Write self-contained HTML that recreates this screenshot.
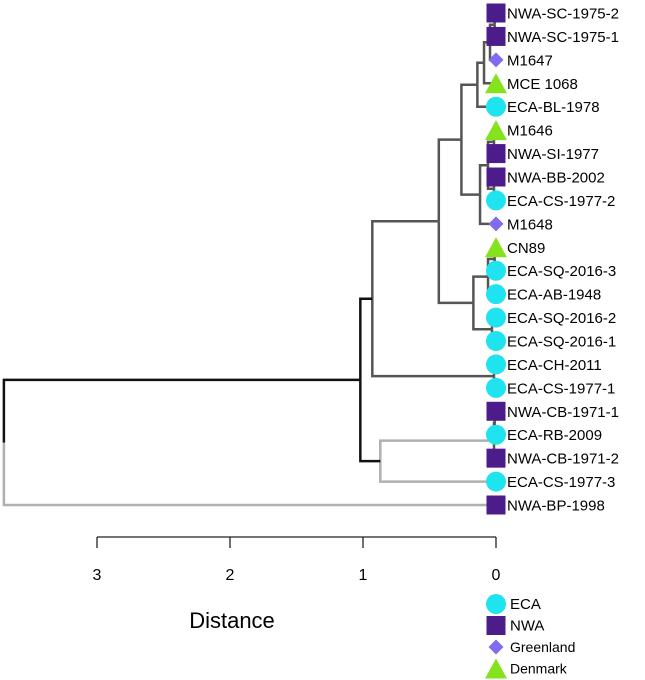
<!DOCTYPE html>
<html><head><meta charset="utf-8"><style>
body{margin:0;background:#fff}
svg{display:block;font-family:"Liberation Sans",Arial,sans-serif}
</style></head><body>
<svg id="chart" width="645" height="680" viewBox="0 0 645 680" xmlns="http://www.w3.org/2000/svg">
<g id="edges"></g>
<g id="leaves"></g>
<g id="axis"></g>
<text x="232" y="628" font-size="22" text-anchor="middle">Distance</text>
<g id="legend"></g>
</svg>
<script>
const leafNames = ["NWA-SC-1975-2","NWA-SC-1975-1","M1647","MCE 1068","ECA-BL-1978","M1646","NWA-SI-1977","NWA-BB-2002","ECA-CS-1977-2","M1648","CN89","ECA-SQ-2016-3","ECA-AB-1948","ECA-SQ-2016-2","ECA-SQ-2016-1","ECA-CH-2011","ECA-CS-1977-1","NWA-CB-1971-1","ECA-RB-2009","NWA-CB-1971-2","ECA-CS-1977-3","NWA-BP-1998"];
const leafGroups = ["NWA","NWA","Greenland","Denmark","ECA","Denmark","NWA","NWA","ECA","Greenland","Denmark","ECA","ECA","ECA","ECA","ECA","ECA","NWA","ECA","NWA","ECA","NWA"];
const mergeLeft  = [-1,1,2,3,-6,-8,5,7,4,-11,10,-14,11,9,-16,14,-18,17,18,16,20];
const mergeRight = [-2,-3,-4,-5,-7,-9,6,-10,8,-12,-13,-15,12,13,-17,15,-19,-20,-21,19,-22];
const mergeHeight = [0.01,0.045,0.09,0.14,0.015,0.015,0.06,0.12,0.26,0.01,0.06,0.03,0.17,0.43,0.015,0.93,0.01,0.015,0.87,1.02,3.7];
const tickValues = [3,2,1,0];
const legendLabels = ["ECA","NWA","Greenland","Denmark"];

const NS="http://www.w3.org/2000/svg";
const x0=496, pxPerUnit=133;
const xScale=d=>x0-d*pxPerUnit;
const yTop=13, rowStep=(505-13)/(leafNames.length-1);
const yScale=i=>yTop+i*rowStep;
const colors={ECA:"#1fe3ef",NWA:"#4c1d8a",Greenland:"#7f6cf0",Denmark:"#84e31c"};
function mk(tag,attrs,parent){const e=document.createElementNS(NS,tag);for(const k in attrs)e.setAttribute(k,attrs[k]);parent.appendChild(e);return e;}

const nodeY=[],nodeX=[];
function pos(ref){return ref<0?{x:x0,y:yScale(-ref-1)}:{x:nodeX[ref-1],y:nodeY[ref-1]};}
for(let m=0;m<mergeLeft.length;m++){
  const a=pos(mergeLeft[m]),b=pos(mergeRight[m]);
  nodeX[m]=xScale(mergeHeight[m]);nodeY[m]=(a.y+b.y)/2;
}
const rootIdx=mergeLeft.length, xIdx=rootIdx-1;
// membership of Z subtree (merge 19) for colors
const inSub=(ref,target)=>{if(ref===target)return true;if(ref<0)return false;return inSub(mergeLeft[ref-1],target)||inSub(mergeRight[ref-1],target);};
function edgeColor(parent,child){
  if(parent===rootIdx) return child===xIdx?"#111":"#b0b0b0";
  if(parent===xIdx) return "#111";
  return inSub(parent,19)?"#b0b0b0":"#555";
}
const edges=document.getElementById('edges');
for(let m=0;m<mergeLeft.length;m++){
  const px=nodeX[m],py=nodeY[m];
  [mergeLeft[m],mergeRight[m]].forEach(c=>{
    const p=pos(c),col=edgeColor(m+1,c);
    const pl=mk('polyline',{points:`${px},${py} ${px},${p.y} ${p.x},${p.y}`,fill:"none",stroke:col,"stroke-width":2.5},edges);
    
    
  });
}
function marker(g,group,cx,cy,parent){
  let e;const c=colors[group];
  if(group==="ECA") e=mk('circle',{cx,cy,r:10,fill:c},parent);
  else if(group==="NWA") e=mk('rect',{x:cx-9.5,y:cy-9.5,width:19,height:19,fill:c},parent);
  else if(group==="Greenland") e=mk('polygon',{points:`${cx},${cy-7.5} ${cx+7.5},${cy} ${cx},${cy+7.5} ${cx-7.5},${cy}`,fill:c},parent);
  else e=mk('polygon',{points:`${cx},${cy-10} ${cx+11},${cy+10} ${cx-11},${cy+10}`,fill:c},parent);
  return e;
}
const leaves=document.getElementById('leaves');
leafNames.forEach((n,i)=>{
  const y=yScale(i);
  const m=marker(null,leafGroups[i],x0,y,leaves);
  
  
  const t=mk('text',{x:507,y:y+5.5,"font-size":15},leaves);t.textContent=n;
  
  
});
const axis=document.getElementById('axis');
mk('line',{x1:xScale(3),x2:xScale(0),y1:537,y2:537,stroke:"#222","stroke-width":1.3},axis);
tickValues.forEach(v=>{
  const x=xScale(v);
  mk('line',{x1:x,x2:x,y1:537,y2:548,stroke:"#222","stroke-width":1.3},axis);
  const t=mk('text',{x:x,y:580,"font-size":16,"text-anchor":"middle"},axis);t.textContent=v;
  
  
});
const legend=document.getElementById('legend');
legendLabels.forEach((l,i)=>{
  const y=604+i*21.5;
  const m=marker(null,l,x0,y,legend);
  
  
  const t=mk('text',{x:510,y:y+5,"font-size":l.length>3?14:15},legend);t.textContent=l;
  
  
});
</script>
</body></html>
